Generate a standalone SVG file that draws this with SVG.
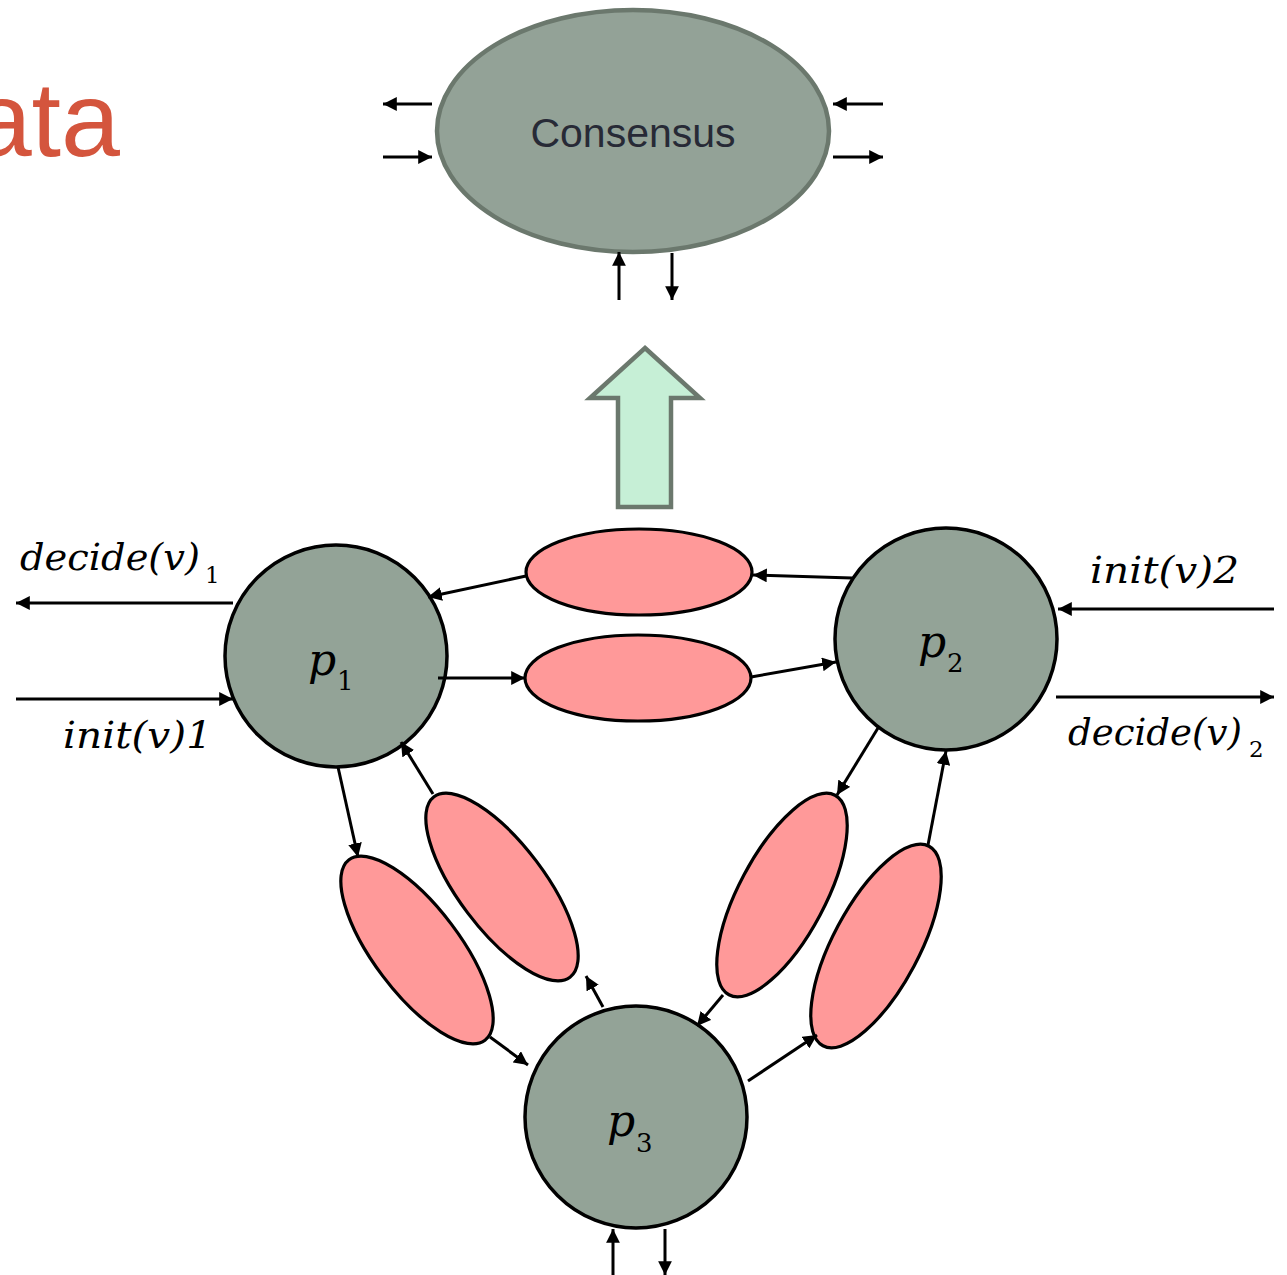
<svg xmlns="http://www.w3.org/2000/svg" width="1287" height="1275" viewBox="0 0 1287 1275">
<defs>
<marker id="ah" viewBox="0 0 10 10" refX="10" refY="5" markerWidth="4.6" markerHeight="4.6" markerUnits="strokeWidth" orient="auto">
<path d="M0,0 L10,5 L0,10 z" fill="#000"/>
</marker>
<style>
.proc{fill:#93a397;stroke:#000;stroke-width:3.5}
.chan{fill:#ff9999;stroke:#000;stroke-width:3.2}
.arr{stroke:#000;stroke-width:3;fill:none;marker-end:url(#ah)}
.math{font-family:"DejaVu Serif",serif;font-style:italic;fill:#000}
.sub{font-family:"DejaVu Serif",serif;fill:#000}
</style>
</defs>
<rect width="1287" height="1275" fill="#fff"/>
<text x="120" y="156" text-anchor="end" font-family="Liberation Sans, Arial, sans-serif" font-size="106" fill="#d4553d">ata</text>

<g id="consensus">
<ellipse cx="633" cy="131" rx="196" ry="121" fill="#93a297" stroke="#6b786d" stroke-width="4.5"/>
<text x="633" y="147" text-anchor="middle" font-family="Liberation Sans, Arial, sans-serif" font-size="41" fill="#272a36">Consensus</text>
</g>

<g id="big-arrow">
<path d="M645,348 L700,398 L671,398 L671,507 L618,507 L618,398 L590,398 Z" fill="#c6efd6" stroke="#6b786d" stroke-width="4.5" stroke-linejoin="miter"/>
</g>

<g id="p1">
<circle class="proc" cx="336" cy="656" r="111"/>
<text class="math" x="308" y="675" font-size="44">p</text>
<text class="sub" x="337" y="690" font-size="26">1</text>
</g>
<g id="p2">
<circle class="proc" cx="946" cy="639" r="111"/>
<text class="math" x="918" y="657" font-size="44">p</text>
<text class="sub" x="947" y="672" font-size="26">2</text>
</g>
<g id="p3">
<circle class="proc" cx="636" cy="1117" r="111"/>
<text class="math" x="607" y="1136" font-size="44">p</text>
<text class="sub" x="636" y="1152" font-size="26">3</text>
</g>

<g id="c12"><ellipse class="chan" cx="639" cy="572" rx="113" ry="43"/></g>
<g id="c21"><ellipse class="chan" cx="638" cy="678" rx="113" ry="43"/></g>
<g id="c13"><ellipse class="chan" cx="0" cy="0" rx="113" ry="43" transform="translate(417,950) rotate(53)"/></g>
<g id="c31"><ellipse class="chan" cx="0" cy="0" rx="113" ry="43" transform="translate(502,887) rotate(53)"/></g>
<g id="c23"><ellipse class="chan" cx="0" cy="0" rx="113" ry="43" transform="translate(782,895) rotate(-62)"/></g>
<g id="c32"><ellipse class="chan" cx="0" cy="0" rx="113" ry="43" transform="translate(876,946) rotate(-62)"/></g>

<g id="labels">
<text class="math" x="20" y="570" font-size="37" textLength="180" lengthAdjust="spacingAndGlyphs">decide(v)</text>
<text class="sub" x="205" y="583" font-size="23">1</text>
<text class="math" x="63" y="748" font-size="37" textLength="149" lengthAdjust="spacingAndGlyphs">init(v)1</text>
<text class="math" x="1090" y="583" font-size="37" textLength="149" lengthAdjust="spacingAndGlyphs">init(v)2</text>
<text class="math" x="1068" y="745" font-size="37" textLength="174" lengthAdjust="spacingAndGlyphs">decide(v)</text>
<text class="sub" x="1249" y="757" font-size="23">2</text>
</g>

<g id="connectors">
<line class="arr" x1="432" y1="104" x2="383" y2="104"/>
<line class="arr" x1="383" y1="157" x2="432" y2="157"/>
<line class="arr" x1="883" y1="104" x2="833" y2="104"/>
<line class="arr" x1="833" y1="157" x2="883" y2="157"/>
<line class="arr" x1="619" y1="300" x2="619" y2="252"/>
<line class="arr" x1="672" y1="253" x2="672" y2="300"/>

<line class="arr" x1="852" y1="578" x2="753" y2="575"/>
<line class="arr" x1="526" y1="576" x2="428" y2="597"/>
<line class="arr" x1="438" y1="678" x2="525" y2="678"/>
<line class="arr" x1="751" y1="677" x2="836" y2="662"/>

<line class="arr" x1="338" y1="767" x2="358" y2="857"/>
<line class="arr" x1="490" y1="1037" x2="528" y2="1065"/>
<line class="arr" x1="603" y1="1007" x2="586" y2="976"/>
<line class="arr" x1="433" y1="794" x2="401" y2="742"/>

<line class="arr" x1="878" y1="728" x2="837" y2="795"/>
<line class="arr" x1="723" y1="995" x2="697" y2="1026"/>
<line class="arr" x1="748" y1="1081" x2="817" y2="1035"/>
<line class="arr" x1="928" y1="845" x2="946" y2="751"/>

<line class="arr" x1="233" y1="603" x2="16" y2="603"/>
<line class="arr" x1="16" y1="699" x2="233" y2="699"/>
<line class="arr" x1="1274" y1="609" x2="1058" y2="609"/>
<line class="arr" x1="1056" y1="697" x2="1274" y2="697"/>

<line class="arr" x1="613" y1="1275" x2="613" y2="1229"/>
<line class="arr" x1="665" y1="1229" x2="665" y2="1275"/>
</g>
</svg>
